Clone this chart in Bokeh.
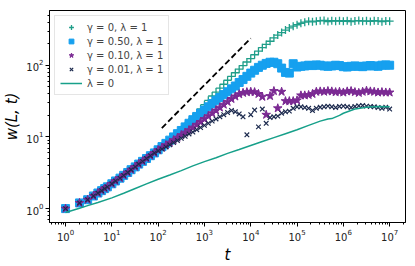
from bokeh.plotting import figure
from bokeh.models import LogTicker, Legend, LegendItem
from bokeh.embed import file_html
from bokeh.resources import INLINE

# time grid of the simulations
t = [1, 2, 3, 4, 5, 6, 7, 8,
     10, 12, 15, 18, 22, 26, 32, 38, 46, 56, 68, 83,
     100, 121, 147, 178, 215, 261, 316, 383, 464, 562, 681, 825,
     1000, 1212, 1468, 1778, 2154, 2610, 3162, 3831, 4642, 5623, 6813, 8254,
     10000, 12115, 14678, 17783, 21544, 26102, 31623, 38312, 46416, 56234, 68129, 82540,
     100000, 121153, 146780, 177828, 215443, 261016, 316228, 383119, 464159, 562341, 681292, 825404,
     1000000, 1211528, 1467799, 1778279, 2154435, 2610157, 3162278, 3831187, 4641589, 5623413, 6812921, 8254042,
     10000000]

w_early = [1.0, 1.2, 1.33, 1.5, 1.65, 1.78, 1.9, 2.01,
           2.22, 2.43, 2.66, 2.91, 3.19, 3.49, 3.82, 4.18, 4.56, 5.0, 5.47, 5.98]

w_g0 = w_early + [
    6.61, 7.33, 8.13, 9.02, 10.0, 11.2, 12.6, 14.3, 16.2, 18.6, 21.4, 24.5,
    28.2, 32.4, 37.2, 42.2, 47.9, 54.3, 61.7, 70.0, 78.5, 88.1, 98.9, 111,
    124, 140, 157, 176, 195, 216, 240, 263, 285, 309, 331, 351,
    367, 385, 398, 412, 403, 412, 417, 422, 407, 417, 412, 417,
    410, 418, 405, 415, 420, 412, 416, 409, 418, 414, 405, 415,
    412]

w_g050 = w_early + [
    6.61, 7.33, 8.13, 9.02, 10.0, 11.1, 12.3, 13.8, 15.5, 17.4, 19.3, 21.4,
    23.7, 26.3, 29.2, 32.4, 35.5, 38.9, 42.7, 46.8, 51.3, 57.5, 63.1, 70.0,
    77.6, 85.1, 93.3, 100, 106, 110, 110, 105, 91.2, 79.4, 77.6, 105,
    94.4, 96.6, 97.7, 100, 98.9, 101, 100, 97.7, 96.6, 97.7, 100, 98.9,
    95.5, 94.4, 96.6, 97.7, 96.6, 95.5, 97.7, 98.9, 97.7, 96.6, 100, 101,
    100]

w_g010 = w_early + [
    6.55, 7.08, 7.67, 8.32, 9.02, 9.77, 10.6, 11.5, 12.4, 13.5, 14.8, 16.2,
    17.8, 19.5, 21.4, 23.4, 25.7, 28.2, 30.9, 33.9, 36.7, 39.4, 41.2, 42.2,
    42.7, 42.2, 39.8, 36.3, 20.4, 37.2, 43.7, 25.1, 42.7, 31.6, 31.6, 31.6,
    32.4, 38.0, 38.0, 38.5, 39.8, 42.7, 43.2, 42.7, 43.7, 43.2, 42.2, 42.7,
    41.7, 43.2, 43.7, 42.2, 41.2, 42.7, 44.2, 43.2, 42.7, 41.7, 42.2, 41.7,
    41.7]

w_g001 = w_early + [
    6.4, 6.76, 7.24, 7.76, 8.32, 8.91, 9.55, 10.2, 11.0, 11.7, 12.6, 13.5,
    14.5, 15.5, 16.6, 17.8, 19.1, 20.4, 21.9, 23.4, 22.4, 20.9, 19.1, 10.7,
    20.4, 23.7, 13.8, 24.5, 15.5, 18.6, 19.1, 19.5, 21.4, 22.4, 22.9, 25.1,
    26.3, 26.3, 25.7, 25.1, 23.4, 25.1, 26.0, 26.3, 26.9, 26.3, 25.7, 26.6,
    26.9, 26.3, 25.7, 26.6, 27.2, 27.5, 26.9, 26.6, 26.3, 25.7, 25.1, 26.0,
    24.5]

t_line = [1, 2, 3, 5, 10, 18, 32, 56, 100, 178, 316, 562, 1000, 1778, 3162, 5623,
          10000, 17783, 31623, 56234, 100000, 177828, 316228, 464159, 562341, 825404,
          1000000, 1778279, 3162278, 5623413, 10000000]
w_line = [0.881, 1.01, 1.10, 1.22, 1.41, 1.64, 1.91, 2.21, 2.57, 2.95, 3.39, 3.94,
          4.52, 5.13, 5.89, 6.68, 7.59, 8.61, 9.77, 11.1, 12.6, 14.5, 16.6, 17.8,
          18.0, 20.0, 21.4, 24.5, 26.0, 26.6, 26.3]

t_guide = [120, 10000]
w_guide = [13.3, 237]

labels = ["γ = 0, λ = 1", "γ = 0.50, λ = 1", "γ = 0.10, λ = 1", "γ = 0.01, λ = 1", "λ = 0"]

C_TEAL = "#1f9e89"
C_BLUE = "#16a0ef"
C_PURP = "#7b2a93"
C_NAVY = "#1c2a4e"
C_LINE = "#17a08a"

p = figure(width=415, height=266, x_axis_type="log", y_axis_type="log",
           x_range=(0.45, 2.2e7), y_range=(0.64, 580),
           output_backend="svg", toolbar_location=None,
           min_border_left=49, min_border_right=10, min_border_top=10, min_border_bottom=43)
p.grid.visible = False
p.outline_line_color = "black"
p.outline_line_width = 1
p.background_fill_color = "white"
p.border_fill_color = "white"

p.xaxis.ticker = LogTicker(desired_num_ticks=10, num_minor_ticks=10)
p.yaxis.ticker = LogTicker(desired_num_ticks=4, num_minor_ticks=10)
for ax in (p.xaxis, p.yaxis):
    ax.major_tick_out = 4
    ax.major_tick_in = 0
    ax.minor_tick_out = 2
    ax.minor_tick_in = 0
    ax.axis_line_color = "black"
    ax.major_tick_line_color = "black"
    ax.minor_tick_line_color = "black"
    ax.major_label_text_font = "DejaVu Sans"
    ax.major_label_text_font_size = "10px"
    ax.major_label_text_color = "#222222"
    ax.major_label_standoff = 2
    ax.axis_label_text_font = "DejaVu Sans"
    ax.axis_label_text_font_style = "italic"
    ax.axis_label_text_font_size = "15px"
    ax.axis_label_text_color = "black"
    ax.axis_label_standoff = 2
p.xaxis.axis_label = "t"
p.yaxis.axis_label = "w(L, t)"

r0 = p.scatter(t, w_g0, marker="cross", size=8, line_color=C_TEAL, line_width=1.3)
r1 = p.scatter(t, w_g050, marker="square", size=8, fill_color=C_BLUE, line_color=C_BLUE)
r2 = p.scatter(t, w_g010, marker="star", size=9, fill_color=C_PURP, line_color=C_PURP)
r3 = p.scatter(t, w_g001, marker="x", size=6.5, line_color=C_NAVY, line_width=1.2)
r4 = p.line(t_line, w_line, line_color=C_LINE, line_width=1.5)
p.line(t_guide, w_guide, line_color="black", line_width=1.8, line_dash="6 3")

legend = Legend(items=[LegendItem(label=labels[i], renderers=[r]) for i, r in enumerate([r0, r1, r2, r3, r4])],
                location="top_left", margin=5, padding=5, spacing=2,
                glyph_width=22, glyph_height=12, label_height=12, label_standoff=5,
                label_text_font="DejaVu Sans", label_text_font_size="10px",
                border_line_color="#cccccc", border_line_width=1,
                background_fill_alpha=0.8)
p.add_layout(legend)

open("out.html", "w").write(file_html(p, INLINE))
